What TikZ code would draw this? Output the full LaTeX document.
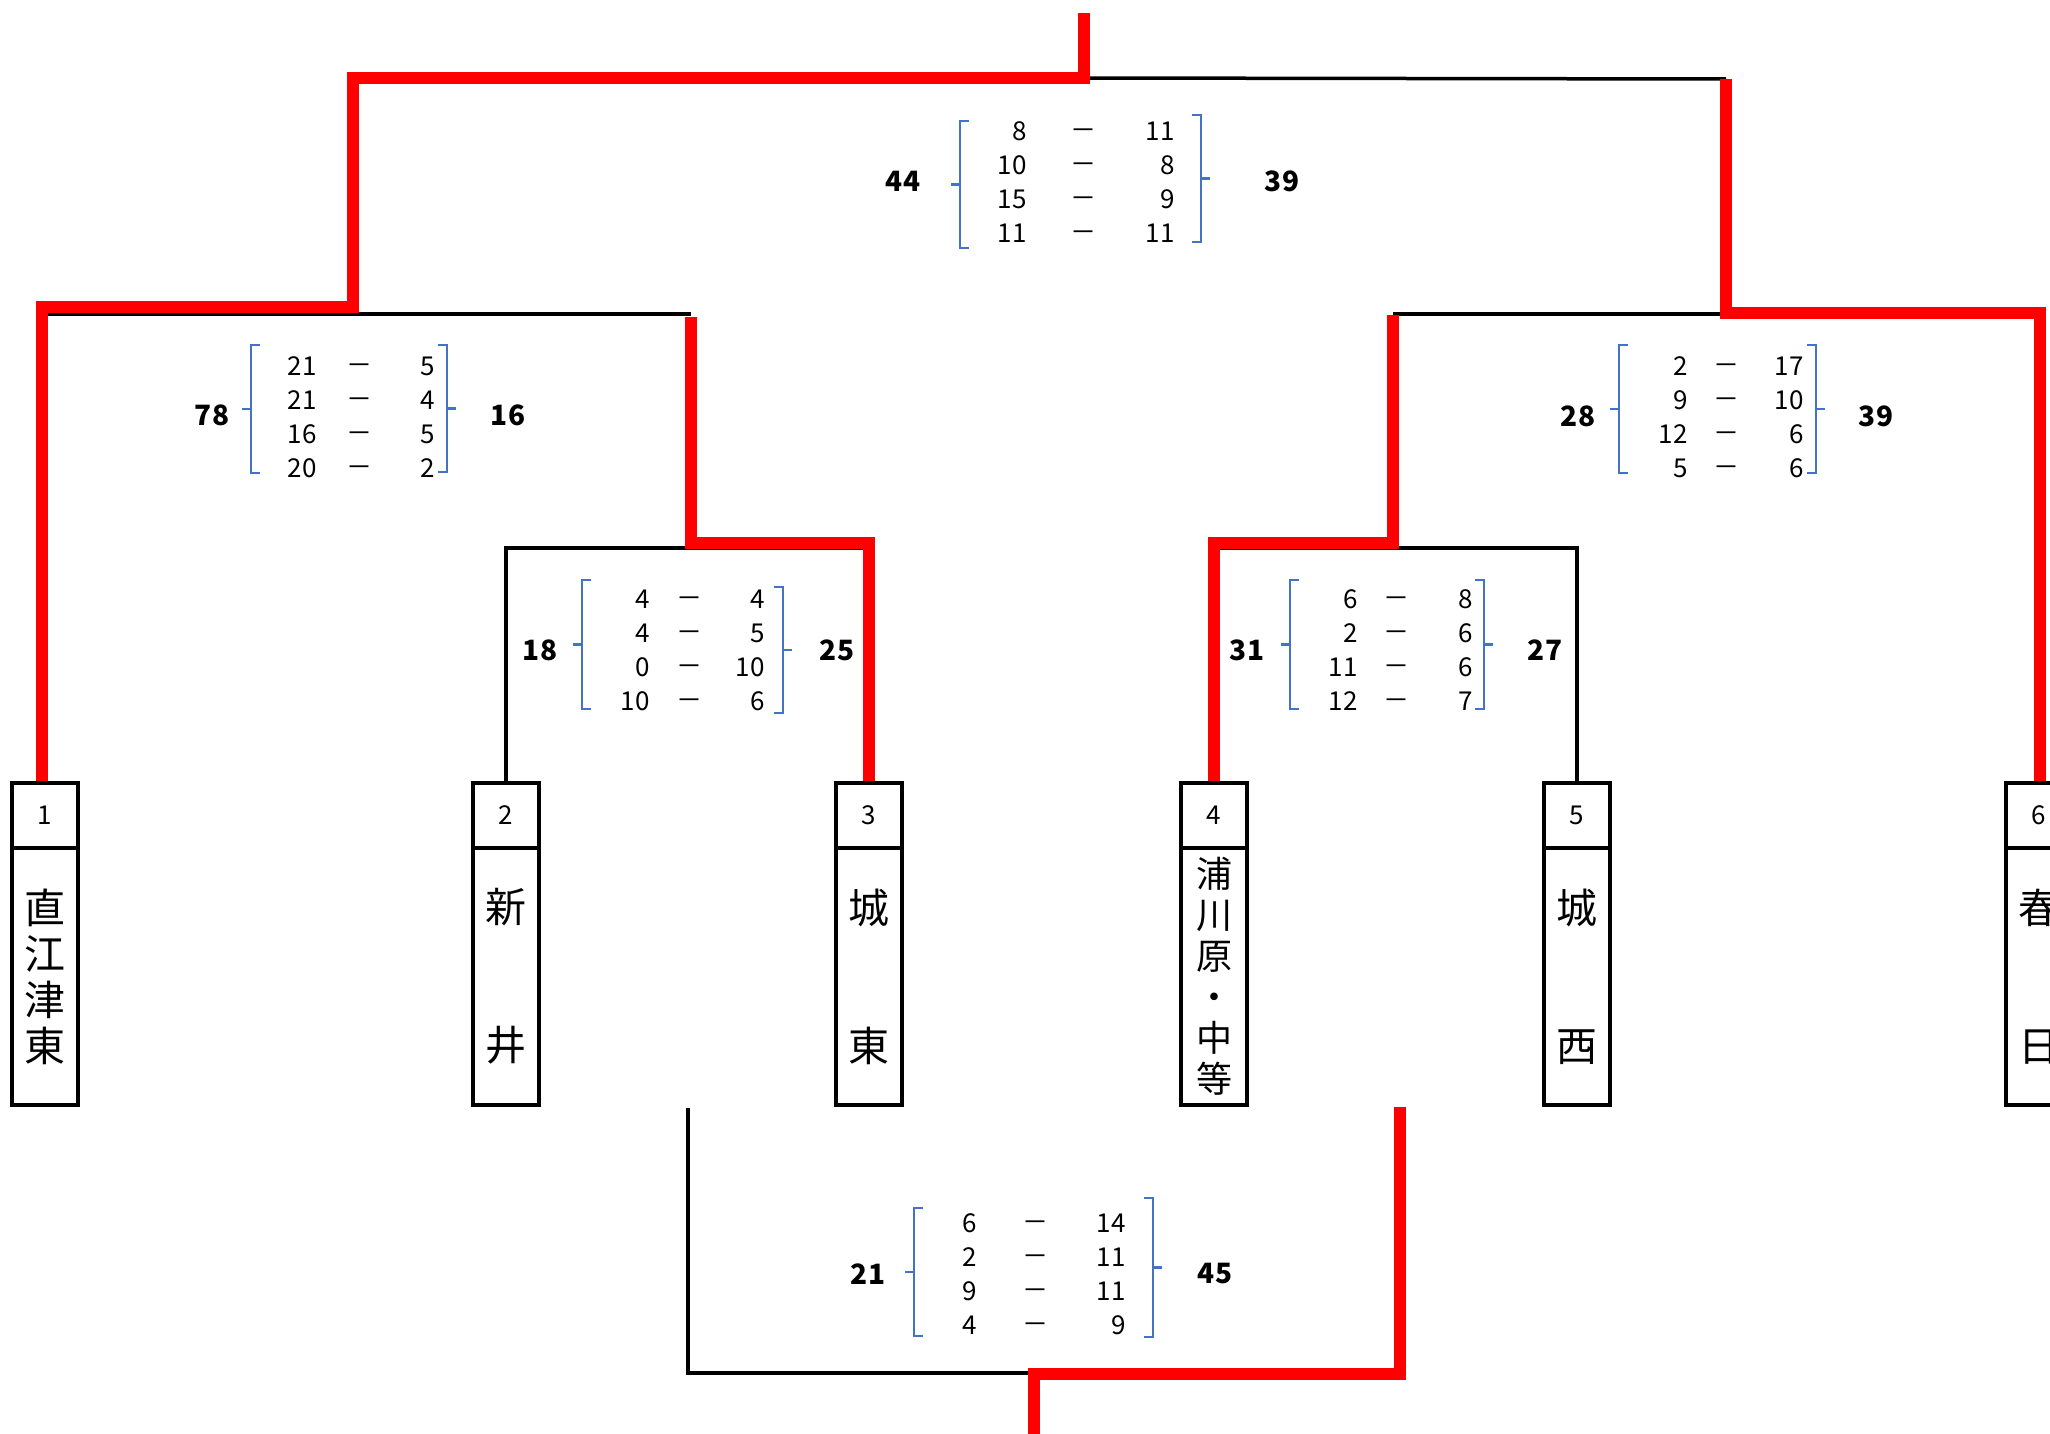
\documentclass[tikz,border=0pt]{standalone}
\usepackage{fontspec}
\setmainfont{Noto Sans CJK JP}
\definecolor{brkc}{RGB}{68,114,196}
\definecolor{winc}{RGB}{255,0,0}
\tikzset{
  blk/.style={black, line width=3.5pt},
  winl/.style={winc, line width=12pt, line join=miter},
  brk/.style={brkc, line width=2.2pt},
  boxnum/.style={draw, line width=3.5pt, minimum width=66pt, minimum height=65pt, inner sep=0pt, font=\fontsize{26}{26}\selectfont},
  boxname/.style={draw, line width=3.5pt, minimum width=66pt, minimum height=257pt, inner sep=0pt, align=center},
  score/.style={font=\fontsize{26}{26}\selectfont, anchor=east, inner sep=0pt},
  dashs/.style={font=\fontsize{26}{26}\selectfont, inner sep=0pt, yshift=-3pt},
  total/.style={font=\bfseries\fontsize{28}{28}\selectfont, inner sep=0pt},
}
\newcommand\lbr[3]{%
  \draw[brk] ({#1+9},#2) -- (#1,#2) -- (#1,#3) -- ({#1+9},#3);
  \draw[brk] (#1,{(#2+#3)/2}) -- ({#1-9},{(#2+#3)/2});}
\newcommand\rbr[3]{%
  \draw[brk] ({#1-9},#2) -- (#1,#2) -- (#1,#3) -- ({#1-9},#3);
  \draw[brk] (#1,{(#2+#3)/2}) -- ({#1+9},{(#2+#3)/2});}
\newcommand\rowsblk[6]{%
  \foreach \a/\b [count=\k] in {#6} {
    \node[score] (#1l\k) at (#2,{#5+(\k-1)*34}) {\a};
    \node[dashs] (#1d\k) at (#3,{#5+(\k-1)*34}) {－};
    \node[score] (#1r\k) at (#4,{#5+(\k-1)*34}) {\b};
  }}
\begin{document}
\begin{tikzpicture}[x=1pt,y=-1pt]
\fill[white] (0,0) rectangle (2050,1434);
\useasboundingbox (0,0) rectangle (2050,1434);
\clip (0,0) rectangle (2050,1434);

% team boxes
\foreach \i/\x in {1/45,2/506,3/869,4/1214,5/1577,6/2039}
  \node[boxnum] (n\i) at (\x,815.5) {\i};
\node[boxname, font=\fontsize{41}{46}\selectfont] (t1) at (45,976.5) {直\\江\\津\\東};
\node[boxname, font=\fontsize{41}{138}\selectfont] (t2) at (506,976.5) {新\\井};
\node[boxname, font=\fontsize{41}{138}\selectfont] (t3) at (869,976.5) {城\\東};
\node[boxname, font=\fontsize{36}{41}\selectfont] (t4) at (1214,976.5) {浦\\川\\原\\・\\中\\等};
\node[boxname, font=\fontsize{41}{138}\selectfont] (t5) at (1577,976.5) {城\\西};
\node[boxname, font=\fontsize{41}{138}\selectfont] (t6) at (2039,976.5) {春\\日};

% junction coordinates
\coordinate (sf) at (1084,13);
\coordinate (fL) at (353,78);
\coordinate (fM) at (1084,78);
\coordinate (fR) at (1726,79);
\coordinate (sL1) at (42,307);
\coordinate (sL2) at (353,307);
\coordinate (bL1) at (42,314);
\coordinate (bL2) at (691,314);
\coordinate (bR1) at (1393,314);
\coordinate (bR2) at (1726,314);
\coordinate (sR1) at (1726,313);
\coordinate (j23) at (691,543);
\coordinate (k23) at (691,317);
\coordinate (b23) at (869,548);
\coordinate (j45) at (1393,543);
\coordinate (k45) at (1393,315);
\coordinate (b45) at (1215,548);
\coordinate (c23b) at (688,1108);
\coordinate (c45b) at (1400,1107);
\coordinate (e3) at (1034,1373);
\coordinate (e3r) at (1034,1374);
\coordinate (eEnd) at (1034,1434);

% black bracket lines
\draw[blk] (n2.north) |- (b23);
\draw[blk] (n5.north) |- (b45);
\draw[blk] (bL1) -- (bL2);
\draw[blk] (bR1) -- (bR2);
\draw[blk] (fM) -- (fR);
\draw[blk] (c23b) |- (e3);

% red winner lines
\draw[winl] (sL1 |- n1.north) -- (sL1) -- (sL2) -- (fL) -- (fM) -- (sf);
\draw[winl] (n6.north -| 2040,0) |- (sR1) -- (fR);
\draw[winl] (n3.north) |- (j23) -- (k23);
\draw[winl] (n4.north) |- (j45) -- (k45);
\draw[winl] (c45b) |- (e3r) -- (eEnd);

% final
\lbr{960}{121}{248} \rbr{1201}{115}{242}
\rowsblk{F}{1027}{1083}{1175}{131}{8/11,10/8,15/9,11/11}
\node[total] (Ft1) at (903,181) {44};
\node[total] (Ft2) at (1282,181) {39};

% semifinal left
\lbr{251}{345}{473} \rbr{447}{345}{472}
\rowsblk{A}{317}{359}{435}{366}{21/5,21/4,16/5,20/2}
\node[total] (At1) at (212,415) {78};
\node[total] (At2) at (508,415) {16};

% semifinal right
\lbr{1619}{345}{473} \rbr{1816}{345}{473}
\rowsblk{D}{1688}{1726}{1804}{366}{2/17,9/10,12/6,5/6}
\node[total] (Dt1) at (1578,416) {28};
\node[total] (Dt2) at (1876,416) {39};

% round 1: 2 v 3
\lbr{582}{580}{709} \rbr{783}{587}{713}
\rowsblk{B}{650}{689}{765}{599}{4/4,4/5,0/10,10/6}
\node[total] (Bt1) at (540,650) {18};
\node[total] (Bt2) at (837,650) {25};

% round 1: 4 v 5
\lbr{1290}{580}{709} \rbr{1484}{580}{709}
\rowsblk{C}{1358}{1396}{1473}{599}{6/8,2/6,11/6,12/7}
\node[total] (Ct1) at (1247,650) {31};
\node[total] (Ct2) at (1545,650) {27};

% bottom match
\lbr{914}{1208}{1336} \rbr{1153}{1198}{1337}
\rowsblk{E}{977}{1035}{1126}{1223}{6/14,2/11,9/11,4/9}
\node[total] (Et1) at (868,1274) {21};
\node[total] (Et2) at (1215,1274) {45};
\end{tikzpicture}
\end{document}
